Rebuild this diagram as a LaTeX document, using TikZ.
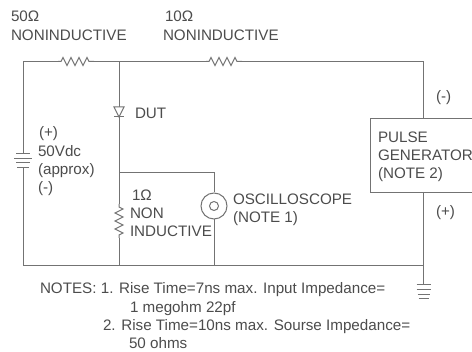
\documentclass[tikz,border=0pt]{standalone}
\usepackage{fontspec}
\setmainfont{Liberation Sans}
\usetikzlibrary{decorations.pathmorphing,calc}
\definecolor{ink}{gray}{0.3}
\definecolor{wire}{gray}{0.45}
\tikzset{
  lbl/.style={inner sep=0pt,outer sep=0pt,anchor=base west,text=ink,font=\fontsize{15.2}{17}\selectfont},
  w/.style={draw=wire,line width=1pt},
  res/.style={draw=wire,line width=1pt,decorate,decoration={zigzag,segment length=8pt,amplitude=4pt,pre length=3pt,post length=3pt}}
}
\begin{document}
\begin{tikzpicture}[x=1pt,y=-1pt]
\useasboundingbox (0,0) rectangle (472,352);
% labels
\node[lbl] (l50) at (11,22) {50Ω};
\node[lbl] (n50) at (11,40.5) {NONINDUCTIVE};
\node[lbl] (l10) at (165,22) {10Ω};
\node[lbl] (n10) at (163,40.5) {NONINDUCTIVE};
\node[lbl] (dut) at (135,119) {DUT};
\node[lbl] (bp) at (39,138) {(+)};
\node[lbl] (bv) at (38,157) {50Vdc};
\node[lbl] (ba) at (38,175) {(approx)};
\node[lbl] (bm) at (38,193) {(-)};
\node[lbl] (r1) at (132,201) {1Ω};
\node[lbl] (r2) at (130,218.5) {NON};
\node[lbl] (r3) at (130,237) {INDUCTIVE};
\node[lbl] (o1) at (233,205) {OSCILLOSCOPE};
\node[lbl] (o2) at (233,223) {(NOTE 1)};
\node[lbl] (pm) at (436,102) {(-)};
\node[lbl] (pp) at (436,217) {(+)};
\node[lbl] (t1) at (40,294) {NOTES: 1. Rise Time=7ns max. Input Impedance=};
\node[lbl] (t2) at (130,313) {1 megohm 22pf};
\node[lbl] (t3) at (103,331) {2. Rise Time=10ns max. Sourse Impedance=};
\node[lbl] (t4) at (129,349) {50 ohms};
% pulse generator
\node[draw=wire,line width=1pt,minimum width=104pt,minimum height=74pt,anchor=north west,inner sep=0pt] (gen) at (370,118) {};
\node[lbl] (g1) at (378,143) {PULSE};
\node[lbl] (g2) at (378,161) {GENERATOR};
\node[lbl] (g3) at (378,179) {(NOTE 2)};
% junctions
\coordinate (tl) at (23,61.5);
\coordinate (r1a) at (58,61.5);
\coordinate (r1b) at (94,61.5);
\coordinate (tj) at (119,61.5);
\coordinate (r2a) at (206,61.5);
\coordinate (r2b) at (242,61.5);
\coordinate (tr) at (423.5,61.5);
\coordinate (gt) at (423.5,118);
\coordinate (gb) at (423.5,192);
\coordinate (br) at (423.5,266);
\coordinate (gnd) at (423.5,284);
\coordinate (bl) at (23,266);
\coordinate (bat1) at (23,154);
\coordinate (bat2) at (23,168);
\coordinate (dk) at (119,107);
\coordinate (da) at (119,117);
\coordinate (mj) at (119,173);
\coordinate (mr) at (214,173);
\coordinate (sa) at (119,204);
\coordinate (sb) at (119,238);
\coordinate (bj) at (119,266);
\coordinate (bo) at (214,266);
\node[draw=wire,circle,line width=1pt,minimum size=26pt,inner sep=0pt] (sc) at (214,206) {};
\node[draw=wire,circle,line width=1pt,minimum size=9pt,inner sep=0pt] (sci) at (214,206) {};
% wires
\draw[w] (bat1) -- (tl) -- (r1a);
\draw[res] (r1a) -- (r1b);
\draw[w] (r1b) -- (tj) -- (r2a);
\draw[res] (r2a) -- (r2b);
\draw[w] (r2b) -- (tr) -- (gt);
\draw[w] (gb) -- (gnd);
\draw[w] (bl) -- (br);
\draw[w] (bat2) -- (bl);
\draw[w] (tj) -- (sa);
\draw[res] (sa) -- (sb);
\draw[w] (sb) -- (bj);
\draw[w] (mj) -- (mr) -- (sc.north);
\draw[w] (sc.south) -- (bo);
% diode
\draw[w,fill=white] ($(dk)+(-5,0)$) -- ($(dk)+(5,0)$) -- (da) -- cycle;
\draw[w] ($(da)+(-5,0)$) -- ($(da)+(5,0)$);
% battery
\foreach \yy/\hw in {154/7,159/9,163/7,168/6}
  \draw[wire,line width=1pt] (23-\hw,\yy) -- (23+\hw,\yy);
% ground
\foreach \yy/\hw in {285/7,290/7,295/6,299/5}
  \draw[wire,line width=1pt] (423.5-\hw,\yy) -- (423.5+\hw,\yy);
\end{tikzpicture}
\end{document}
